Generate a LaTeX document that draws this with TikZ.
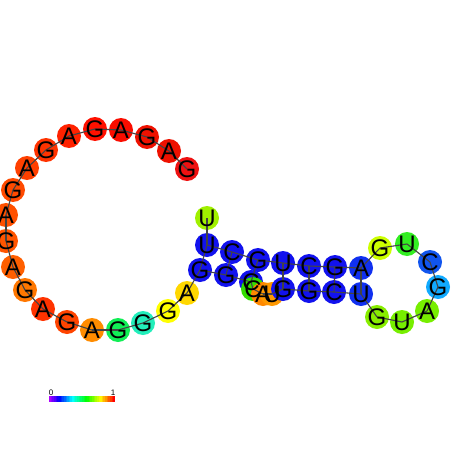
\documentclass[tikz,border=0pt]{standalone}
\usepackage{fontspec}
\setmainfont{Liberation Sans}
\definecolor{stemblue}{RGB}{18,18,238}
\definecolor{lightblue}{RGB}{16,48,240}
\definecolor{limeA}{RGB}{160,240,0}
\definecolor{limeB}{RGB}{204,255,0}
\definecolor{greenA}{RGB}{51,238,34}
\definecolor{blueC}{RGB}{17,85,238}
\definecolor{skyG}{RGB}{17,170,255}
\definecolor{limeC}{RGB}{119,238,0}
\definecolor{limeD}{RGB}{136,238,0}
\definecolor{orU}{RGB}{255,153,0}
\definecolor{orA}{RGB}{255,136,0}
\definecolor{grC}{RGB}{51,221,0}
\definecolor{goldA}{RGB}{255,215,0}
\definecolor{yelG}{RGB}{255,255,0}
\definecolor{cyG}{RGB}{34,238,187}
\definecolor{grG}{RGB}{17,238,85}
\definecolor{orB}{RGB}{255,140,0}
\definecolor{rA}{RGB}{255,68,0}
\definecolor{rB}{RGB}{255,51,0}
\definecolor{oC}{RGB}{255,119,0}
\definecolor{oD}{RGB}{255,95,0}
\definecolor{oE}{RGB}{255,85,0}
\definecolor{oF}{RGB}{255,80,0}
\definecolor{oG}{RGB}{255,74,0}
\definecolor{oH}{RGB}{255,64,0}
\definecolor{rC}{RGB}{255,34,0}
\definecolor{rD}{RGB}{255,17,0}
\definecolor{rE}{RGB}{250,13,0}
\definecolor{rF}{RGB}{238,17,0}
\definecolor{rG}{RGB}{238,17,17}
\definecolor{linegray}{RGB}{68,68,68}
\tikzset{
  base/.style={circle, minimum size=24pt, inner sep=0pt},
  bb/.style={draw=linegray, line width=1.1pt},
  lab/.style={inner sep=0pt, font=\fontsize{24}{24}\selectfont},
}
\begin{document}
\begin{tikzpicture}[x=1pt,y=-1pt]
\useasboundingbox (0,0) rectangle (452,452);
\fill[white] (0,0) rectangle (452,452);
% circles (drawn 3' to 5')
\node[base, fill=rG] (n45) at (187,169) {};
\node[base, fill=rF] (n44) at (169,151) {};
\node[base, fill=rF] (n43) at (147,137) {};
\node[base, fill=rE] (n42) at (121,130) {};
\node[base, fill=rD] (n41) at (95,129) {};
\node[base, fill=rC] (n40) at (69,136) {};
\node[base, fill=rB] (n39) at (46,150) {};
\node[base, fill=oH] (n38) at (27,168) {};
\node[base, fill=oG] (n37) at (13,190) {};
\node[base, fill=oF] (n36) at (6,215) {};
\node[base, fill=oE] (n35) at (6,241) {};
\node[base, fill=oD] (n34) at (13,267) {};
\node[base, fill=oC] (n33) at (25,290) {};
\node[base, fill=rB] (n32) at (43,309) {};
\node[base, fill=rA] (n31) at (67,322) {};
\node[base, fill=orB] (n30) at (92,330) {};
\node[base, fill=grG] (n29) at (118,330) {};
\node[base, fill=cyG] (n28) at (143,323) {};
\node[base, fill=yelG] (n27) at (168,311) {};
\node[base, fill=goldA] (n26) at (187,293) {};
\node[base, fill=stemblue] (n25) at (200,270) {};
\node[base, fill=stemblue] (n24) at (226,275) {};
\node[base, fill=stemblue] (n23) at (251,282) {};
\node[base, fill=grC] (n22) at (253,289) {};
\node[base, fill=orA] (n21) at (263,294) {};
\node[base, fill=orU] (n20) at (272,294) {};
\node[base, fill=stemblue] (n19) at (283,289) {};
\node[base, fill=stemblue] (n18) at (309,291) {};
\node[base, fill=stemblue] (n17) at (334,292) {};
\node[base, fill=lightblue] (n16) at (361,294) {};
\node[base, fill=limeD] (n15) at (377,317) {};
\node[base, fill=limeC] (n14) at (402,322) {};
\node[base, fill=limeC] (n13) at (427,311) {};
\node[base, fill=skyG] (n12) at (438,287) {};
\node[base, fill=blueC] (n11) at (430,262) {};
\node[base, fill=greenA] (n10) at (407,244) {};
\node[base, fill=limeB] (n9) at (380,248) {};
\node[base, fill=lightblue] (n8) at (361,268) {};
\node[base, fill=stemblue] (n7) at (335,267) {};
\node[base, fill=stemblue] (n6) at (309,266) {};
\node[base, fill=stemblue] (n5) at (283,263) {};
\node[base, fill=stemblue] (n4) at (258,260) {};
\node[base, fill=stemblue] (n3) at (232,252) {};
\node[base, fill=stemblue] (n2) at (207,245) {};
\node[base, fill=limeA] (n1) at (207,218) {};
% backbone
\foreach \i [evaluate=\i as \j using int(\i+1)] in {1,...,44}
  \draw[bb] (n\i.center) -- (n\j.center);
% base pairs
\foreach \a/\b in {2/25,3/24,4/23,5/19,6/18,7/17,8/16}
  \draw[bb] (n\a.center) -- (n\b.center);
% letters
\foreach \i/\t in {45/G,44/A,43/G,42/A,41/G,40/A,39/G,38/A,37/G,36/A,35/G,34/A,33/G,32/A,31/G,30/A,29/G,28/G,27/G,26/A,25/G,24/G,23/C,22/C,21/A,20/U,19/G,18/G,17/C,16/U,15/G,14/U,13/A,12/G,11/C,10/U,9/G,8/A,7/G,6/C,5/U,4/G,3/C,2/U,1/U}
  \node[lab] at (n\i) {\t};
% colour bar
\foreach \k in {0,...,39} {
  \pgfmathsetmacro\hh{0.78*(1-\k/39)}
  \definecolor{cbar}{hsb}{\hh,1,1}
  \fill[cbar] (49+\k*1.65,396) rectangle ++(1.75,6);
}
\node[font=\fontsize{8}{8}\selectfont, inner sep=0pt] (lo) at (51,392.5) {0};
\node[font=\fontsize{8}{8}\selectfont, inner sep=0pt] (hi) at (113,392.5) {1};
\end{tikzpicture}
\end{document}
